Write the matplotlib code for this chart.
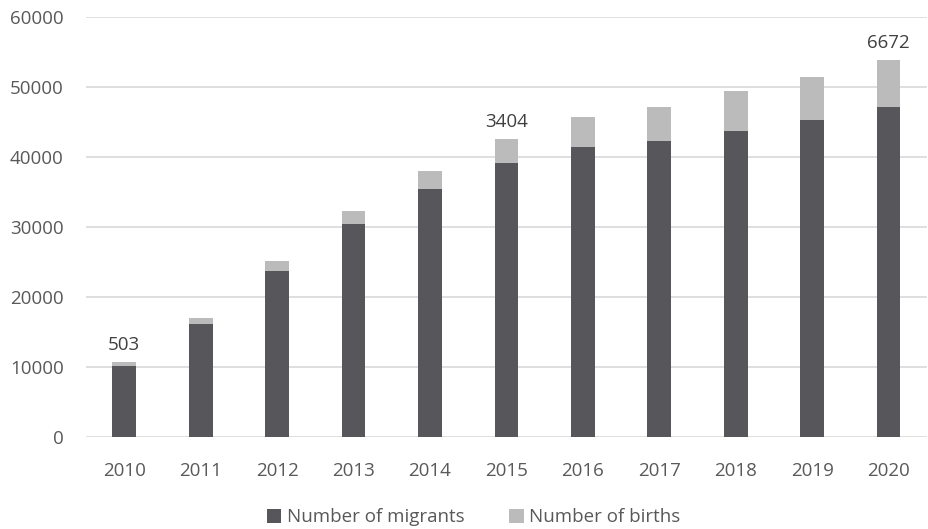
import matplotlib
matplotlib.use("Agg")
import matplotlib.pyplot as plt
import numpy as np

plt.rcParams["font.family"] = ["Open Sans", "DejaVu Sans"]

# Migrants and births per year (births stacked on top)
years = ["2010", "2011", "2012", "2013", "2014", "2015",
         "2016", "2017", "2018", "2019", "2020"]
migrants = [10240, 16240, 23810, 30430, 35480, 39200,
            41520, 42380, 43810, 45380, 47230]
births = [503, 760, 1330, 1950, 2620, 3404,
          4240, 4900, 5620, 6050, 6672]
labelled_years = ["2010", "2015", "2020"]

DARK = "#57565b"
LIGHT = "#bbbbbb"
TEXT = "#595959"

fig = plt.figure(figsize=(9.29, 5.29), dpi=100)
ax = fig.add_axes([0.0926, 0.173, 0.905, 0.794])

x = np.arange(len(years))
width = 0.31
ax.bar(x, migrants, width, color=DARK, label="Number of migrants", zorder=3)
ax.bar(x, births, width, bottom=migrants, color=LIGHT,
       label="Number of births", zorder=3)

# births value above selected bars
for i, yr in enumerate(years):
    if yr in labelled_years:
        ax.annotate(f"{births[i]}", (x[i], migrants[i] + births[i]),
                    xytext=(0, 6), textcoords="offset points",
                    ha="center", va="bottom", fontsize=13.5, color="#404040")

ax.set_xlim(-0.5, len(years) - 0.5)
ax.set_ylim(0, 60000)
ax.set_yticks(range(0, 60001, 10000))
ax.set_xticks(x)
ax.set_xticklabels(years)
ax.yaxis.grid(True, color="#d9d9d9", linewidth=1.2, zorder=0)
ax.set_axisbelow(True)
for side in ["top", "right", "left", "bottom"]:
    ax.spines[side].set_visible(False)
ax.tick_params(axis="both", length=0, labelsize=13.5, colors=TEXT)
ax.tick_params(axis="x", pad=18)
ax.tick_params(axis="y", pad=16)

fig.legend(loc="lower center", bbox_to_anchor=(0.51, -0.027), ncol=2,
           frameon=False, fontsize=13.5, handlelength=0.75, handleheight=0.75,
           handletextpad=0.3, columnspacing=2.4, labelcolor=TEXT)

fig.savefig("out.png", dpi=100)
